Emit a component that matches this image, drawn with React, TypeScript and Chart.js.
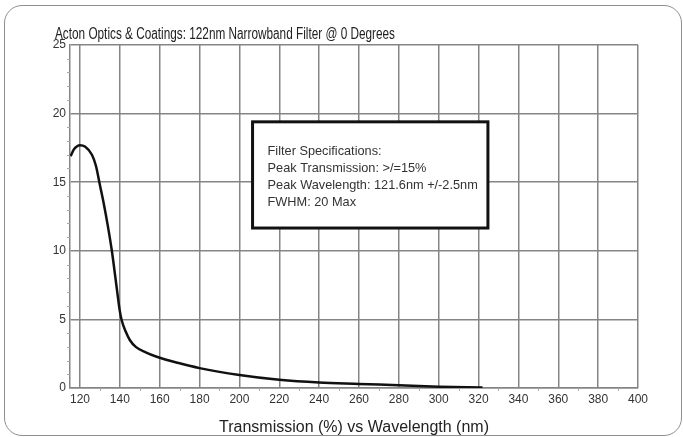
import React, { useEffect, useRef } from "react";
import { Chart, registerables } from "chart.js";

Chart.register(...registerables);

const wavelengths = [115.3, 117, 120, 122.5, 126, 128, 130, 132, 134, 136, 138, 140, 141, 143, 145, 148, 153, 158.5, 170, 180, 200, 220, 240, 260, 280, 300, 322];
const transmission = [16.9, 17.4, 17.7, 17.6, 17.0, 16.2, 14.8, 13.4, 11.8, 10.0, 7.8, 5.6, 4.9, 4.1, 3.5, 3.0, 2.6, 2.28, 1.8, 1.45, 0.95, 0.6, 0.4, 0.3, 0.2, 0.1, 0.03];
const xTickValues = [120, 140, 160, 180, 200, 220, 240, 260, 280, 300, 320, 340, 360, 380, 400];
const yTickValues = [0, 5, 10, 15, 20, 25];
const chartTitle = "Acton Optics & Coatings: 122nm Narrowband Filter @ 0 Degrees";
const xAxisTitle = "Transmission (%) vs Wavelength (nm)";
const specLines = [
  "Filter Specifications:",
  "Peak Transmission: >/=15%",
  "Peak Wavelength: 121.6nm +/-2.5nm",
  "FWHM: 20 Max",
];

const FONT = "'Liberation Sans Narrow', 'Arial Narrow', 'Liberation Sans', sans-serif";
const GRID = "#858585";

const titlePlugin = {
  id: "leftTitle",
  afterDraw(chart: any) {
    const { ctx, chartArea } = chart;
    ctx.save();
    ctx.fillStyle = "#222";
    ctx.font = `16px ${FONT}`;
    ctx.textBaseline = "middle";
    ctx.textAlign = "left";
    ctx.fillText(chartTitle, chartArea.left - 15, chartArea.top - 10, 340);
    ctx.restore();
  },
};

const specBoxPlugin = {
  id: "specBox",
  afterDraw(chart: any) {
    const { ctx, scales } = chart;
    const x = scales.x, y = scales.y;
    const l = x.getPixelForValue(206.6);
    const r = x.getPixelForValue(324.7);
    const t = y.getPixelForValue(19.4);
    const b = y.getPixelForValue(11.66);
    ctx.save();
    ctx.fillStyle = "#ffffff";
    ctx.fillRect(l, t, r - l, b - t);
    ctx.strokeStyle = "#111";
    ctx.lineWidth = 3;
    ctx.strokeRect(l, t, r - l, b - t);
    ctx.fillStyle = "#333";
    ctx.font = `13px ${FONT}`;
    ctx.textBaseline = "middle";
    ctx.textAlign = "left";
    specLines.forEach((s, i) => {
      const w = ctx.measureText(s).width * 0.98;
      ctx.fillText(s, l + 15, t + 30 + i * 17, w);
    });
    ctx.restore();
  },
};

const minorTicksPlugin = {
  id: "minorTicks",
  afterDraw(chart: any) {
    const { ctx, scales, chartArea } = chart;
    ctx.save();
    ctx.strokeStyle = "#aaa";
    ctx.lineWidth = 1;
    for (let v = 1; v < 25; v++) {
      if (v % 5 === 0) continue;
      const py = Math.round(scales.y.getPixelForValue(v)) + 0.5;
      ctx.beginPath();
      ctx.moveTo(chartArea.left - 3, py);
      ctx.lineTo(chartArea.left, py);
      ctx.stroke();
    }
    for (let v = 130; v < 400; v += 20) {
      const px = Math.round(scales.x.getPixelForValue(v)) + 0.5;
      ctx.beginPath();
      ctx.moveTo(px, chartArea.bottom);
      ctx.lineTo(px, chartArea.bottom + 3);
      ctx.stroke();
    }
    ctx.restore();
  },
};

export default function App() {
  const ref = useRef<HTMLCanvasElement>(null);
  useEffect(() => {
    if (!ref.current) return;
    const chart = new Chart(ref.current, {
      type: "line",
      data: {
        datasets: [
          {
            data: wavelengths.map((w, i) => ({ x: w, y: transmission[i] })),
            borderColor: "#111",
            borderWidth: 2.5,
            pointRadius: 0,
            cubicInterpolationMode: "monotone",
            fill: false,
          },
        ],
      },
      options: {
        animation: false,
        responsive: false,
        devicePixelRatio: 1,
        layout: { padding: { left: 35, right: 45, top: 45, bottom: 0 } },
        plugins: {
          legend: { display: false },
          tooltip: { enabled: false },
          title: { display: false },
        },
        scales: {
          x: {
            type: "linear",
            min: 115,
            max: 400,
            afterBuildTicks: (s: any) => {
              s.ticks = xTickValues.map((v) => ({ value: v }));
            },
            afterFit: (s: any) => {
              s.height = 49;
            },
            grid: { color: GRID, lineWidth: 1.5, drawTicks: false },
            border: { color: GRID, width: 1.5 },
            ticks: {
              color: "#333",
              padding: 4,
              maxRotation: 0,
              autoSkip: false,
              font: { family: FONT, size: 12 },
            },
            title: {
              display: true,
              text: xAxisTitle,
              color: "#222",
              font: { family: FONT, size: 16 },
              padding: { top: 8, bottom: 0 },
            },
          },
          y: {
            type: "linear",
            min: 0,
            max: 25,
            afterBuildTicks: (s: any) => {
              s.ticks = yTickValues.map((v) => ({ value: v }));
            },
            afterFit: (s: any) => {
              s.width = 35;
            },
            grid: { color: GRID, lineWidth: 1.5, drawTicks: false },
            border: { color: GRID, width: 1.5 },
            ticks: {
              color: "#333",
              padding: 4,
              font: { family: FONT, size: 12 },
            },
          },
        },
      },
      plugins: [titlePlugin, specBoxPlugin, minorTicksPlugin],
    } as any);
    return () => chart.destroy();
  }, []);

  return (
    <div style={{ position: "fixed", left: 0, top: 0, width: 683, height: 437, background: "#fff" }}>
      <div
        style={{
          position: "absolute",
          left: 4,
          top: 5,
          width: 678,
          height: 431,
          border: "1.5px solid #8f8f8f",
          borderRadius: 18,
          boxSizing: "border-box",
        }}
      />
      <canvas ref={ref} width={683} height={437} style={{ position: "absolute", left: 0, top: 0 }} />
    </div>
  );
}
